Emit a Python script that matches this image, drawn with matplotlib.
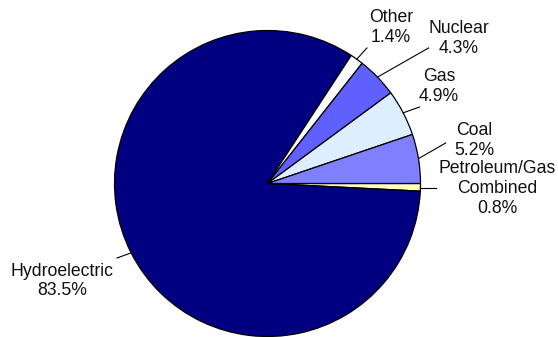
import numpy as np
import matplotlib
matplotlib.use('Agg')
import matplotlib.pyplot as plt

# Data (clockwise from 3 o'clock)
labels = ['Petroleum/Gas\nCombined', 'Hydroelectric', 'Other', 'Nuclear', 'Gas', 'Coal']
shares = [0.8, 83.5, 1.4, 4.3, 4.9, 5.2]
colors = ['#FFFFC0', '#000080', '#FFFFFF', '#6060FF', '#DDEEFF', '#8080FF']

# Label layout (data units, pie radius = 1)
text_pos = [(1.503, -0.033), (-1.340, -0.637), (0.807, 1.020),
            (1.252, 0.948), (1.121, 0.634), (1.350, 0.281)]
line_end = [(1.101, -0.028), (-0.984, -0.487), (0.650, 0.886),
            (1.053, 0.886), (0.994, 0.500), (1.165, 0.265)]

plt.rcParams.update({'font.family': 'Liberation Sans'})

fig = plt.figure(figsize=(5.58, 3.37), dpi=100)
fig.set_facecolor('white')
ax = fig.add_axes([0, 0, 1, 1])

wedges, _ = ax.pie(shares, colors=colors, startangle=0, counterclock=False,
                   radius=1, wedgeprops={'edgecolor': 'black', 'linewidth': 0.9})

# Labels with leader lines
for w, lab, val, tp, le in zip(wedges, labels, shares, text_pos, line_end):
    mid = np.deg2rad((w.theta1 + w.theta2) / 2)
    y0 = np.sin(mid)
    if abs(le[1] - y0) < 0.02:   # keep near-horizontal leaders flat
        y0 = le[1]
    ax.plot([np.cos(mid), le[0]], [y0, le[1]], color='black', lw=0.8)
    ax.text(tp[0], tp[1], f'{lab}\n{val}%', ha='center', va='center',
            fontsize=12.7, color='#111111')

# Pixel-fitted view: centre at (267.5, 183.5), radius 153 px
s = 153.0
ax.set_xlim(-267.5 / s, (558 - 267.5) / s)
ax.set_ylim(-(337 - 183.5) / s, 183.5 / s)
ax.set_aspect('auto')
ax.axis('off')

fig.savefig('out.png', dpi=100, facecolor='white')
